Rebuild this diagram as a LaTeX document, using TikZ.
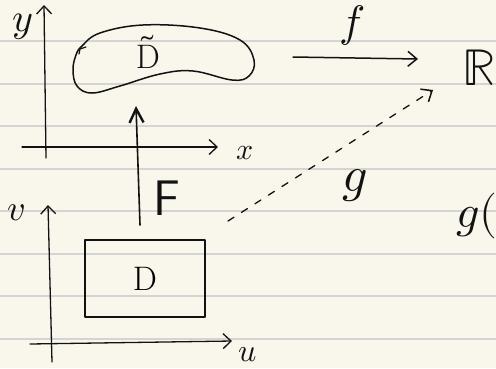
\documentclass[tikz,border=0pt]{standalone}
\usepackage{amsmath}
\usepackage{unicode-math}
\setmathfont{Latin Modern Math}
\usepackage{tikz}
\usetikzlibrary{arrows.meta}
\definecolor{paper}{RGB}{249,247,236}
\definecolor{rulegray}{RGB}{212,212,210}
\definecolor{ink}{RGB}{18,18,18}
\newcommand{\fsz}[1]{\fontsize{#1}{#1}\selectfont}
\tikzset{
  stroke/.style={draw=ink,line width=1.5pt,line cap=round,line join=round},
  axis/.style={stroke,line width=1.3pt,-{Straight Barb[length=8pt,width=15pt,line width=1.3pt]}},
  mapto/.style={stroke,-{Straight Barb[length=9pt,width=15pt,line width=1.5pt]}},
  liftto/.style={stroke,line width=1.6pt,-{Straight Barb[length=14pt,width=14pt,line width=2.4pt]}},
  dashto/.style={mapto,line width=1.3pt,dash pattern=on 7pt off 9pt},
  lbl/.style={inner sep=0pt,text=ink},
  region/.style={stroke,draw,inner sep=0pt,minimum width=120pt,minimum height=77pt}
}
\begin{document}
\begin{tikzpicture}[x=1pt,y=-1pt]
  \fill[paper] (0,0) rectangle (496,368);
  \useasboundingbox (0,0) rectangle (496,368);
  \foreach \r in {41,83.5,...,340}
    \draw[rulegray,line width=2pt] (0,\r) -- (496,\r);
  % upper plane (x,y)
  \coordinate (ybot) at (46,158);
  \coordinate (ytop) at (44,5);
  \coordinate (xleft) at (22,147);
  \coordinate (xtip) at (218,147);
  \draw[axis] (ybot) -- (ytop);
  \draw[axis] (xleft) -- (xtip);
  \node[lbl,font=\fsz{40}] (ylab) at (23,27) {$y$};
  \node[lbl,font=\fsz{30}] (xlab) at (245,153) {$x$};
  \draw[stroke] plot[smooth cycle,tension=0.65] coordinates {
    (82,46) (100,33) (143,25) (200,28) (240,40) (254,60) (249,76)
    (232,80) (193,71) (160,74) (120,86) (92,93) (77,86) (73,70) (76,55)};
  \draw[stroke,line width=1.2pt] (86,47) -- (80,49) -- (79,54);
  \node[lbl,font=\fsz{34}] (Dt) at (148,52) {$\tilde{\mathrm{D}}$};
  % lower plane (u,v)
  \coordinate (vbot) at (52,362);
  \coordinate (vtop) at (48,205);
  \coordinate (uleft) at (30,344);
  \coordinate (utip) at (232,341);
  \draw[axis] (vbot) -- (vtop);
  \draw[axis] (uleft) -- (utip);
  \node[lbl,font=\fsz{36}] (vlab) at (16,213) {$v$};
  \node[lbl,font=\fsz{32}] (ulab) at (248,355) {$u$};
  \node[region,font=\fsz{34}] (Dbox) at (145,278.5) {D};
  % maps
  \coordinate (Fs) at (140,225);
  \coordinate (Fe) at (136,106);
  \draw[liftto] (Fs) -- (Fe);
  \node[lbl,font=\fsz{50}\sffamily] (Flab) at (167,198) {F};
  \node[lbl,font=\fsz{52}] (R) at (479,68) {$\mathbb{R}$};
  \coordinate (fs) at (293,57);
  \coordinate (fe) at (418,59);
  \draw[mapto] (fs) -- (fe);
  \node[lbl,font=\fsz{44}] (flab) at (352,25) {$f$};
  \coordinate (gs) at (228,221);
  \coordinate (ge) at (433,90);
  \draw[dashto] (gs) -- (ge);
  \node[lbl,font=\fsz{50}] (glab) at (355,186) {$g$};
  \node[lbl,font=\fsz{46},anchor=west] (gu) at (456,216) {$g($};
\end{tikzpicture}
\end{document}
